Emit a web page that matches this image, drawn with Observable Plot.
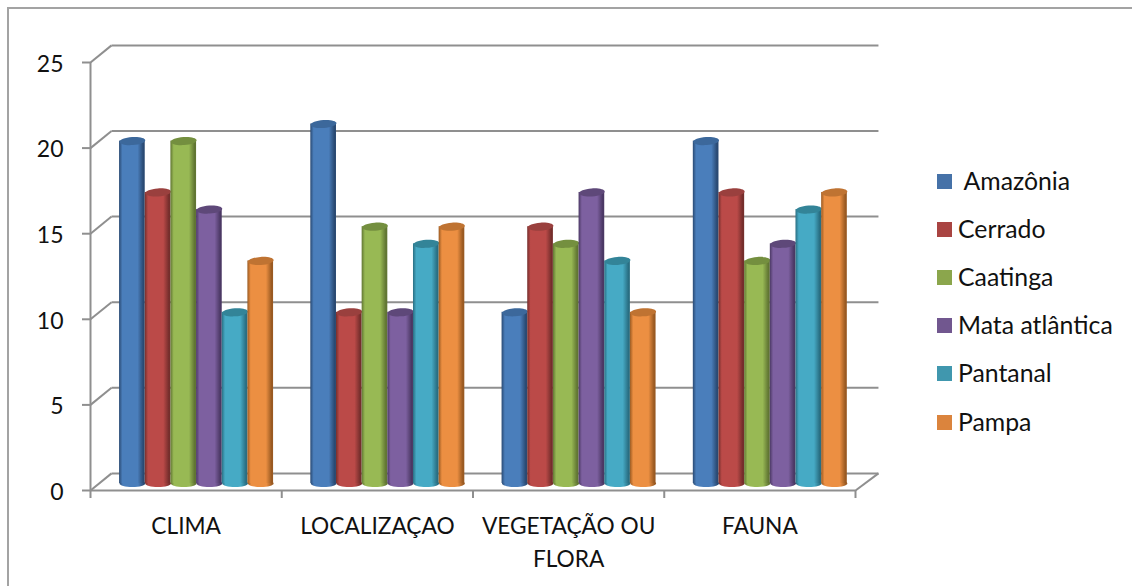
<!DOCTYPE html>
<html lang="pt">
<head>
<meta charset="utf-8">
<script src="https://cdn.jsdelivr.net/npm/d3@7"></script>
<script src="https://cdn.jsdelivr.net/npm/@observablehq/plot@0.6"></script>
<style>
  html, body { margin: 0; padding: 0; background: #fff; overflow: hidden; }
  #page { position: relative; width: 1132px; height: 586px; font-family: Lato, sans-serif; color: #111; }
  #page svg { position: absolute; left: 0; top: 0; overflow: visible; }
  #border { position: absolute; left: 7px; top: 7px; right: -4px; bottom: -4px; border: 2px solid #a3a3a3; }
  #legend { position: absolute; left: 937px; top: 157px; font-size: 24.8px; }
  #legend .row { display: flex; align-items: center; height: 48.2px; white-space: pre; }
  #legend .row span { position: relative; top: -1px; }
  #legend .swatch { width: 15px; height: 15px; margin-right: 6px; }
</style>
</head>
<body>
<div id="page"><div id="border"></div></div>
<script>
// Respostas por tema e bioma
const categories = ["CLIMA", "LOCALIZAÇAO", "VEGETAÇÃO OU FLORA", "FAUNA"];
const amazonia = [20, 21, 10, 20];
const cerrado = [17, 10, 15, 17];
const caatinga = [20, 15, 14, 13];
const mataAtlantica = [16, 10, 17, 14];
const pantanal = [10, 14, 13, 16];
const pampa = [13, 15, 10, 17];
const yTicks = [0, 5, 10, 15, 20, 25];

const series = [
  {name: " Amazônia", values: amazonia, swatch: "#4672a8", edge: "#2a4a73", mid: "#4a7ebb", cap: "#3c689b"},
  {name: "Cerrado", values: cerrado, swatch: "#a94442", edge: "#752e2c", mid: "#bb4a48", cap: "#9a403e"},
  {name: "Caatinga", values: caatinga, swatch: "#8ba64c", edge: "#617633", mid: "#98b954", cap: "#748f3f"},
  {name: "Mata atlântica", values: mataAtlantica, swatch: "#71578f", edge: "#4b3864", mid: "#7d60a0", cap: "#5e4879"},
  {name: "Pantanal", values: pantanal, swatch: "#4097ae", edge: "#296e82", mid: "#46aac5", cap: "#338498"},
  {name: "Pampa", values: pampa, swatch: "#db843d", edge: "#9a5a22", mid: "#ec8f42", cap: "#bf7332"}
];

// Oblique projection of the chart box, in data units
const depthX = 0.11;
const depthY = 1;
const groupStart = 0.152;
const barWidth = 0.1342;
const axisGray = "#8f8f8f";

// Flat ellipse used for the ends of the cylinders
const ellipse = ratio => ({
  draw(context, size) {
    const rx = Math.sqrt(size / Math.PI);
    const ry = rx * ratio;
    const k = 0.5523;
    context.moveTo(-rx, 0);
    context.bezierCurveTo(-rx, -ry * k, -rx * k, -ry, 0, -ry);
    context.bezierCurveTo(rx * k, -ry, rx, -ry * k, rx, 0);
    context.bezierCurveTo(rx, ry * k, rx * k, ry, 0, ry);
    context.bezierCurveTo(-rx * k, ry, -rx, ry * k, -rx, 0);
    context.closePath();
  }
});

const defs = () => {
  const svg = d3.create("svg:defs");
  series.forEach((s, i) => {
    const body = svg.append("linearGradient").attr("id", `body${i}`);
    [[0, s.edge], [0.13, s.mid], [0.72, s.mid], [0.94, s.edge], [1, s.edge]].forEach(([o, c]) =>
      body.append("stop").attr("offset", o).attr("stop-color", c));
  });
  return svg.node();
};

const cylinders = series.flatMap((s, si) => {
  const rows = categories.map((category, ci) => ({
    category,
    value: s.values[ci],
    x1: ci + groupStart + si * barWidth,
    x2: ci + groupStart + (si + 1) * barWidth,
    xc: ci + groupStart + (si + 0.5) * barWidth
  }));
  return [
    Plot.dot(rows, {x: "xc", y: () => 0, dy: -7, r: 12.9, symbol: ellipse(0.27), fill: `url(#body${si})`}),
    Plot.rectY(rows, {x1: "x1", x2: "x2", y: "value", dy: -7, fill: `url(#body${si})`}),
    Plot.dot(rows, {x: "xc", y: "value", dy: -7, r: 12.9, rotate: -4, symbol: ellipse(0.31), fill: s.cap})
  ];
});

const chart = Plot.plot({
  width: 1132,
  height: 586,
  marginLeft: 90,
  marginRight: 277,
  marginTop: 62,
  marginBottom: 96,
  x: {domain: [0, categories.length], axis: null},
  y: {domain: [0, 25], axis: null},
  style: {fontFamily: "Lato, sans-serif", fontSize: "22px", color: "#111", background: "transparent"},
  marks: [
    defs,
    // Back wall grid lines
    Plot.link(yTicks, {x1: () => depthX, x2: () => categories.length + depthX + 0.01, y1: d => d + depthY, y2: d => d + depthY, stroke: axisGray, strokeWidth: 2}),
    // Side wall edges and the floor's right edge
    Plot.link(yTicks, {x1: () => 0, x2: () => depthX, y1: d => d, y2: d => d + depthY, stroke: axisGray, strokeWidth: 2}),
    Plot.link([0], {x1: () => categories.length, x2: () => categories.length + depthX + 0.01, y1: d => d, y2: d => d + depthY, stroke: axisGray, strokeWidth: 2}),
    // Front axis lines
    Plot.ruleX([0], {y1: 0, y2: 25, stroke: axisGray, strokeWidth: 2}),
    Plot.ruleY([0], {stroke: axisGray, strokeWidth: 2}),
    Plot.axisY({ticks: yTicks, tickSize: 8, tickFormat: () => "", label: null, stroke: axisGray, strokeWidth: 2}),
    Plot.axisY({ticks: yTicks, tickSize: 0, tickPadding: 27, label: null, fontSize: 23, dy: 2, fill: "#111"}),
    Plot.axisX({ticks: d3.range(categories.length + 1), tickSize: 8, tickFormat: () => "", label: null, stroke: axisGray, strokeWidth: 2}),
    ...cylinders,
    // Category labels, wrapped under each group
    Plot.text(categories, {
      x: (d, i) => i + 0.5,
      y: () => 0,
      text: d => d,
      dy: 21,
      lineAnchor: "top",
      lineWidth: 9.2,
      lineHeight: 1.42,
      fontSize: 22.7,
      fill: "#111"
    })
  ]
});

const page = document.getElementById("page");
page.appendChild(chart);

const legend = d3.select(page).append("div").attr("id", "legend");
const row = legend.selectAll("div").data(series).join("div").attr("class", "row");
row.append("div").attr("class", "swatch").style("background", d => d.swatch);
row.append("span").text(d => d.name);
</script>
</body>
</html>
